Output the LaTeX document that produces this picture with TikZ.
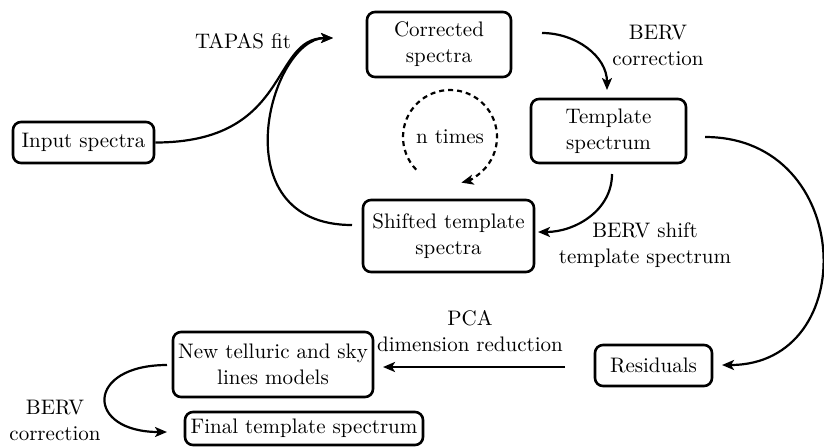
\documentclass[tikz,border=0pt]{standalone}
\usepackage{tikz}
\usetikzlibrary{arrows, arrows.meta}
\tikzstyle{box} = [rectangle, rounded corners=4pt, draw=black, line width=1.3pt, align=center, text centered, inner sep=0pt]
\tikzstyle{arrow} = [line width=1.1pt,-{Stealth[length=6pt, width=5pt, inset=1.5pt]}]
\tikzstyle{note} = [align=center]
\tikzstyle{dashloop} = [arrow, dash pattern=on 2.5pt off 2pt]

\begin{document}
\begin{tikzpicture}[x=0.5pt, y=0.5pt, font=\fontsize{10.5}{13}\selectfont]
    \useasboundingbox (0,0) rectangle (824,-446);
    % boxes
    \node (input) [box, minimum width=70.5pt, minimum height=20.5pt] at (83.5,-142.5) {Input spectra};
    \node (corr) [box, minimum width=72pt, minimum height=32.5pt] at (439,-44.5) {Corrected\\spectra};
    \node (templ) [box, minimum width=77.5pt, minimum height=32pt] at (608.5,-131) {Template\\spectrum};
    \node (shift) [box, minimum width=85.5pt, minimum height=36pt] at (448.5,-236) {Shifted template\\spectra};
    \node (resid) [box, minimum width=58.5pt, minimum height=20.5pt] at (653.5,-365.5) {Residuals};
    \node (newtel) [box, minimum width=100pt, minimum height=32.5pt] at (273,-364.5) {New telluric and sky\\lines models};
    \node (final) [box, minimum width=119pt, minimum height=16.5pt] at (304,-428.5) {Final template spectrum};
    \node (ntimes) at (450,-137) {n times};
    % free ends of the arrows
    \coordinate (fitend) at (333,-38);
    \coordinate (shiftout) at (352,-225);
    \coordinate (corrout) at (542,-33);
    \coordinate (templin) at (607,-90);
    \coordinate (templdown) at (612,-174);
    \coordinate (shiftin) at (538,-232);
    \coordinate (templright) at (705,-137);
    \coordinate (residin) at (722,-365);
    \coordinate (pcaout) at (565,-367);
    \coordinate (newtelin) at (383,-367);
    \coordinate (newtelout) at (167,-365);
    \coordinate (finalin) at (167,-432);
    % arrows
    \draw [arrow] (input.east) to[out=0, in=180, out distance=68pt, in distance=31.5pt] (fitend);
    \draw [arrow] (shiftout) to[out=180, in=180, out distance=66.5pt, in distance=31.5pt] (fitend);
    \draw [arrow] (corrout) to[out=0, in=90] (templin);
    \draw [arrow] (templdown) to[out=-90, in=0] (shiftin);
    \draw [arrow] (templright) to[out=0, in=0, out distance=75pt, in distance=70pt] (residin);
    \draw [arrow] (pcaout) -- (newtelin);
    \draw [arrow] (newtelout) to[out=180, in=180, out distance=41pt, in distance=41pt] (finalin);
    \draw [dashloop] ([shift={(224:47)}]ntimes.center) arc[start angle=224, end angle=-76, radius=47];
    % labels
    \node (tapas) [note] at (243,-41) {TAPAS fit};
    \node (berv1) [note] at (658,-45) {BERV\\correction};
    \node (bervshift) [note] at (645,-245) {BERV shift\\template spectrum};
    \node (pca) [note] at (470,-331) {PCA\\dimension reduction};
    \node (berv2) [note] at (55,-420) {BERV\\correction};
\end{tikzpicture}
\end{document}
